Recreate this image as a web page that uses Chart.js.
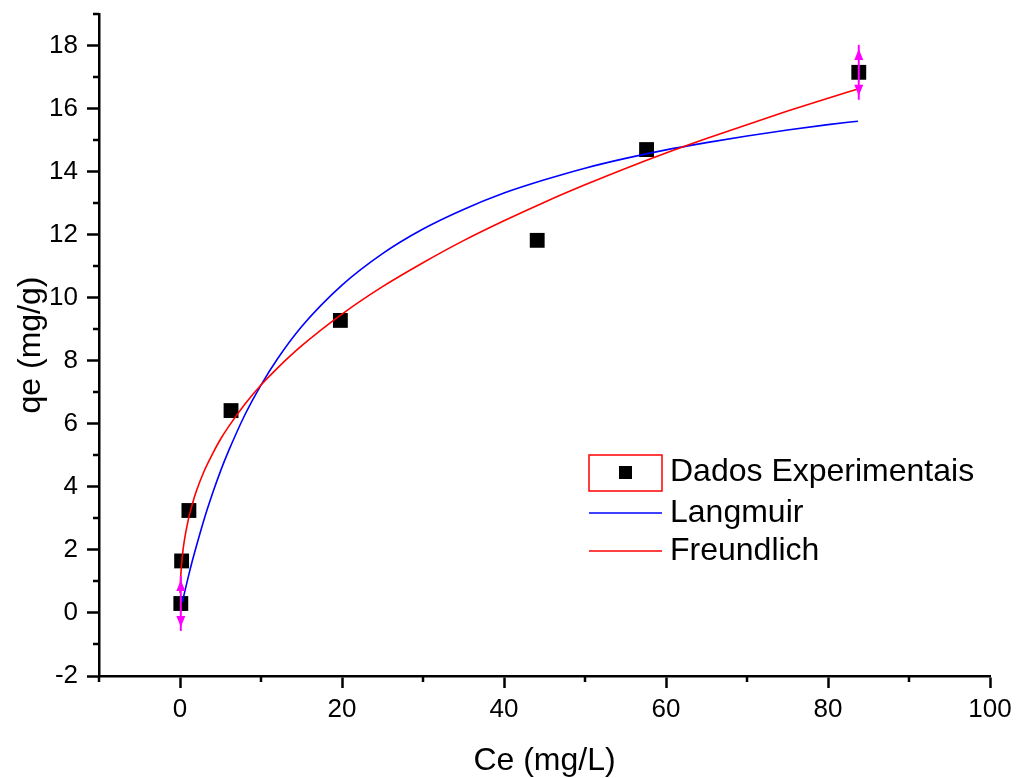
<!DOCTYPE html>
<html>
<head>
<meta charset="utf-8">
<script src="https://cdn.jsdelivr.net/npm/chart.js@4.4.0/dist/chart.umd.min.js"></script>
<style>
  html, body { margin: 0; padding: 0; background: #fff; }
  #wrap { width: 1017px; height: 778px; position: relative; }
</style>
</head>
<body>
<div id="wrap"><canvas id="myChart"></canvas></div>
<script>
// experimental points (Ce, qe) and error bars
let ceData = [0.1, 0.2, 1.1, 6.3, 19.8, 44.1, 57.6, 83.8]
let qeData = [0.3, 1.65, 3.25, 6.42, 9.28, 11.82, 14.7, 17.15]
let qeError = [0.87, 0, 0, 0, 0, 0, 0, 0.87]

// Langmuir curve
let langCe = [0.3, 0.5, 1, 1.5, 2, 3, 4, 5, 6, 8, 10, 12, 15, 20, 25, 30, 35, 40, 45, 50, 55, 60, 65, 70, 75, 80, 83.7]
let langQe = [0.35, 0.58, 1.12, 1.63, 2.10, 2.99, 3.78, 4.50, 5.14, 6.28, 7.23, 8.05, 9.08, 10.40, 11.40, 12.18, 12.80, 13.32, 13.74, 14.11, 14.42, 14.69, 14.92, 15.13, 15.32, 15.49, 15.60]

// Freundlich curve
let freCe = [0.02, 0.1, 0.3, 0.5, 1, 1.5, 2, 3, 4, 5, 6, 8, 10, 12, 15, 20, 25, 30, 35, 40, 45, 50, 55, 60, 65, 70, 75, 80, 83.7]
let freQe = [0.63, 1.19, 1.83, 2.24, 2.93, 3.43, 3.85, 4.51, 5.04, 5.51, 5.91, 6.62, 7.23, 7.76, 8.47, 9.48, 10.35, 11.11, 11.81, 12.44, 13.03, 13.58, 14.10, 14.59, 15.05, 15.49, 15.92, 16.33, 16.62]

// tick labels
let xTicks = [0, 20, 40, 60, 80, 100]
let xMinor = [-10, 10, 30, 50, 70, 90]
let yTicks = [-2, 0, 2, 4, 6, 8, 10, 12, 14, 16, 18]
let yMinor = [-1, 1, 3, 5, 7, 9, 11, 13, 15, 17, 19]

const FONT = "'Liberation Sans', Arial, sans-serif"

function toPoints(xs, ys) {
  return xs.map((x, i) => ({ x: x, y: ys[i] }))
}

// minor ticks, error bars and legend
const extras = {
  id: 'extras',
  afterDatasetsDraw(chart) {
    const ctx = chart.ctx
    const xs = chart.scales.x
    const ys = chart.scales.y
    const area = chart.chartArea
    ctx.save()
    ctx.strokeStyle = '#000'
    ctx.lineWidth = 2.5
    ctx.beginPath()
    xMinor.forEach(v => {
      const px = Math.round(xs.getPixelForValue(v))
      ctx.moveTo(px, area.bottom)
      ctx.lineTo(px, area.bottom + 6)
    })
    yMinor.forEach(v => {
      const py = Math.round(ys.getPixelForValue(v))
      ctx.moveTo(area.left, py)
      ctx.lineTo(area.left - 6, py)
    })
    ctx.stroke()

    // error bars
    ctx.strokeStyle = '#ff00ff'
    ctx.fillStyle = '#ff00ff'
    ctx.lineWidth = 2
    ceData.forEach((c, i) => {
      if (!qeError[i]) return
      const px = xs.getPixelForValue(c)
      const top = ys.getPixelForValue(qeData[i] + qeError[i])
      const bot = ys.getPixelForValue(qeData[i] - qeError[i])
      ctx.beginPath()
      ctx.moveTo(px, top)
      ctx.lineTo(px, bot)
      ctx.stroke()
      ctx.beginPath()
      ctx.moveTo(px, top + 4)
      ctx.lineTo(px - 4.5, top + 15)
      ctx.lineTo(px + 4.5, top + 15)
      ctx.closePath()
      ctx.moveTo(px, bot - 4)
      ctx.lineTo(px - 4.5, bot - 15)
      ctx.lineTo(px + 4.5, bot - 15)
      ctx.closePath()
      ctx.fill()
    })

    // legend
    const ds = chart.data.datasets
    const lx = 589, lw = 73
    ctx.font = '32px ' + FONT
    ctx.textBaseline = 'middle'
    ctx.fillStyle = '#000'
    ctx.strokeStyle = '#ff0000'
    ctx.lineWidth = 1.5
    ctx.strokeRect(lx, 455, lw, 36)
    ctx.fillRect(lx + lw / 2 - 6.5, 466, 13, 13)
    ctx.fillText(ds[2].label, 670, 472)
    ;[[ds[0], 513], [ds[1], 551]].forEach(([d, y]) => {
      ctx.strokeStyle = d.borderColor
      ctx.lineWidth = 1.5
      ctx.beginPath()
      ctx.moveTo(lx, y)
      ctx.lineTo(lx + lw, y)
      ctx.stroke()
      ctx.fillStyle = '#000'
      ctx.fillText(d.label, 670, y)
    })
    ctx.restore()
  }
}

const ctx = document.getElementById('myChart')

new Chart(ctx, {
  type: 'scatter',
  data: {
    datasets: [
      {
        label: 'Langmuir',
        data: toPoints(langCe, langQe),
        showLine: true,
        borderColor: '#0000ff',
        borderWidth: 1.6,
        pointRadius: 0,
        cubicInterpolationMode: 'monotone',
        order: 2
      },
      {
        label: 'Freundlich',
        data: toPoints(freCe, freQe),
        showLine: true,
        borderColor: '#ff0000',
        borderWidth: 1.6,
        pointRadius: 0,
        cubicInterpolationMode: 'monotone',
        order: 1
      },
      {
        label: 'Dados Experimentais',
        data: toPoints(ceData, qeData),
        pointStyle: 'rect',
        pointRadius: 10.5,
        backgroundColor: '#000',
        borderColor: '#000',
        borderWidth: 0,
        order: 3
      }
    ]
  },
  options: {
    responsive: true,
    maintainAspectRatio: false,
    animation: false,
    layout: { padding: { top: 14, right: 27, left: 0, bottom: 0 } },
    plugins: {
      legend: { display: false },
      tooltip: { enabled: false }
    },
    scales: {
      x: {
        type: 'linear',
        min: -10,
        max: 100,
        afterBuildTicks: s => { s.ticks = xTicks.map(v => ({ value: v })) },
        afterFit: s => { s.height = 102; s.paddingLeft = 0; s.paddingRight = 0 },
        border: { display: true, color: '#000', width: 2.5 },
        grid: { drawOnChartArea: false, drawTicks: true, tickLength: 12, tickColor: '#000', tickWidth: 2.5 },
        ticks: { color: '#000', font: { family: FONT, size: 26 }, padding: 6, maxRotation: 0 },
        title: { display: true, text: 'Ce (mg/L)', color: '#000', font: { family: FONT, size: 32, lineHeight: 1 }, padding: { top: 0, bottom: 1 } }
      },
      y: {
        type: 'linear',
        min: -2,
        max: 19,
        afterBuildTicks: s => { s.ticks = yTicks.map(v => ({ value: v })) },
        afterFit: s => { s.width = 99; s.paddingTop = 0; s.paddingBottom = 0 },
        border: { display: true, color: '#000', width: 2.5 },
        grid: { drawOnChartArea: false, drawTicks: true, tickLength: 12, tickColor: '#000', tickWidth: 2.5 },
        ticks: { color: '#000', font: { family: FONT, size: 26 }, padding: 9 },
        title: { display: true, text: 'qe (mg/g)', color: '#000', font: { family: FONT, size: 32 }, padding: { top: 12, bottom: 0 } }
      }
    }
  },
  plugins: [extras]
})
</script>
</body>
</html>
